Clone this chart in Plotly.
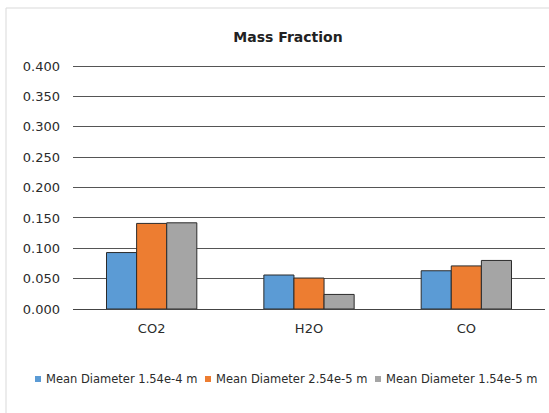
import plotly.graph_objects as go

# Species and mass fractions for each mean droplet diameter
species = ["CO2", "H2O", "CO"]
series_names = [
    "Mean Diameter 1.54e-4 m",
    "Mean Diameter 2.54e-5 m",
    "Mean Diameter 1.54e-5 m",
]
d_154e4 = [0.093, 0.056, 0.063]
d_254e5 = [0.141, 0.051, 0.071]
d_154e5 = [0.142, 0.024, 0.080]
series_values = [d_154e4, d_254e5, d_154e5]
colors = ["#5B9BD5", "#ED7D31", "#A5A5A5"]

tick_vals = [0.0, 0.05, 0.10, 0.15, 0.20, 0.25, 0.30, 0.35, 0.40]
tick_text = ["0.000", "0.050", "0.100", "0.150", "0.200", "0.250", "0.300", "0.350", "0.400"]

FONT = "DejaVu Sans"

fig = go.Figure()
for name, vals, col in zip(series_names, series_values, colors):
    fig.add_trace(go.Bar(
        x=species, y=vals, name=name,
        marker=dict(color=col, line=dict(color="#2b2b2b", width=1)),
        showlegend=False,
    ))

W, H = 549, 413
L, R, T, B = 73, 4, 65, 104
pw, ph = W - L - R, H - T - B
Y_MAX = 0.402

def px_x(p):
    return (p - L) / pw

def px_y(p):
    return (H - B - p) / ph

# Legend row below the chart: a small swatch followed by the series name
legend_y = 379
legend_swatch_x = [35, 205, 375]
swatch = 6

shapes = [dict(
    type="rect", xref="paper", yref="paper",
    x0=px_x(6), x1=px_x(W + 10), y0=px_y(8), y1=px_y(H + 10),
    line=dict(color="#d9d9d9", width=1), fillcolor="rgba(0,0,0,0)",
    layer="below",
)]
annotations = []
for sx, name, col in zip(legend_swatch_x, series_names, colors):
    shapes.append(dict(
        type="rect", xref="paper", yref="paper",
        x0=px_x(sx), x1=px_x(sx + swatch),
        y0=px_y(legend_y - swatch / 2), y1=px_y(legend_y + swatch / 2),
        line=dict(width=0), fillcolor=col,
    ))
    annotations.append(dict(
        text=name, xref="paper", yref="paper",
        x=px_x(sx + swatch + 3), y=px_y(legend_y),
        xanchor="left", yanchor="middle", showarrow=False,
        font=dict(family=FONT, size=11.5, color="#2b2b2b"),
    ))

fig.update_layout(
    width=W, height=H,
    margin=dict(l=L, r=R, t=T, b=B),
    paper_bgcolor="white", plot_bgcolor="white",
    font=dict(family=FONT, color="#333333"),
    barmode="group", bargap=0.426, bargroupgap=0,
    title=dict(
        text="<b>Mass Fraction</b>",
        x=288 / W, xanchor="center", xref="container",
        y=1 - 37 / H, yanchor="middle", yref="container",
        font=dict(family=FONT, size=14, color="#222222"),
    ),
    xaxis=dict(
        showgrid=False, showline=False, ticks="",
        tickfont=dict(family=FONT, size=13, color="#2b2b2b"),
        ticklabelstandoff=10,
    ),
    yaxis=dict(
        range=[0, Y_MAX], tickvals=tick_vals, ticktext=tick_text,
        showgrid=True, gridcolor="#555555", gridwidth=1,
        zeroline=True, zerolinecolor="#444444", zerolinewidth=1,
        showline=False, ticks="",
        tickfont=dict(family=FONT, size=13, color="#2b2b2b"),
        ticklabelstandoff=12,
    ),
    showlegend=False,
    shapes=shapes,
    annotations=annotations,
)

fig.write_html("out.html")
